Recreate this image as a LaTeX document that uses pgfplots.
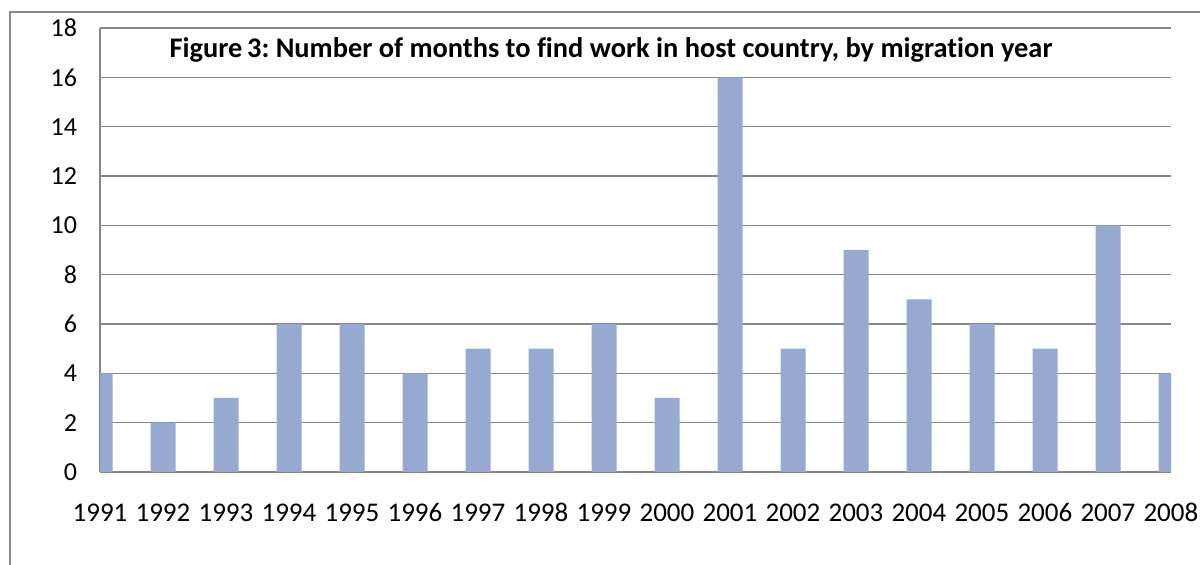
\documentclass[border=0pt]{standalone}
\usepackage{pgfplots}
\pgfplotsset{compat=1.18}
\usepackage{fontspec}
\setmainfont{Carlito}[Ligatures=NoCommon]
\frenchspacing
\definecolor{barblue}{RGB}{149,169,209}
\definecolor{gridgray}{RGB}{134,134,134}
\definecolor{framegray}{RGB}{137,137,137}
\begin{document}
\begin{tikzpicture}
\useasboundingbox (0pt,0pt) rectangle (600pt,282.5pt);
\draw[framegray, line width=1pt] (5pt,0pt) -- (5pt,276.5pt) -- (600pt,276.5pt);
\begin{axis}[
  at={(50pt,46.5pt)}, anchor=south west,
  width=535.5pt, height=222pt, scale only axis,
  xmin=1991, xmax=2008, ymin=0, ymax=18,
  ytick={0,2,...,18},
  xtick={1991,...,2008},
  /pgf/number format/assume math mode=true,
  xticklabel style={/pgf/number format/1000 sep={}, font=\fontsize{13.5}{15}\selectfont, anchor=base, yshift=-25pt},
  yticklabel style={font=\fontsize{13}{15}\selectfont, xshift=-8pt},
  major tick length=0pt,
  axis x line*=bottom, axis y line*=left,
  axis line style={gridgray, line width=0.7pt, -},
  ymajorgrids, grid style={gridgray, line width=0.7pt},
  ybar, bar width=12.5pt,
]
\addplot[fill=barblue, draw=none] coordinates {
(1991,4) (1992,2) (1993,3) (1994,6) (1995,6) (1996,4) (1997,5) (1998,5) (1999,6)
(2000,3) (2001,16) (2002,5) (2003,9) (2004,7) (2005,6) (2006,5) (2007,10) (2008,4)};
\end{axis}
\node[font=\bfseries\fontsize{14.2}{16}\selectfont] at (305.5pt,257.5pt) {Figure\,3: Number of months to find work in host country, by migration year};
\end{tikzpicture}
\end{document}
